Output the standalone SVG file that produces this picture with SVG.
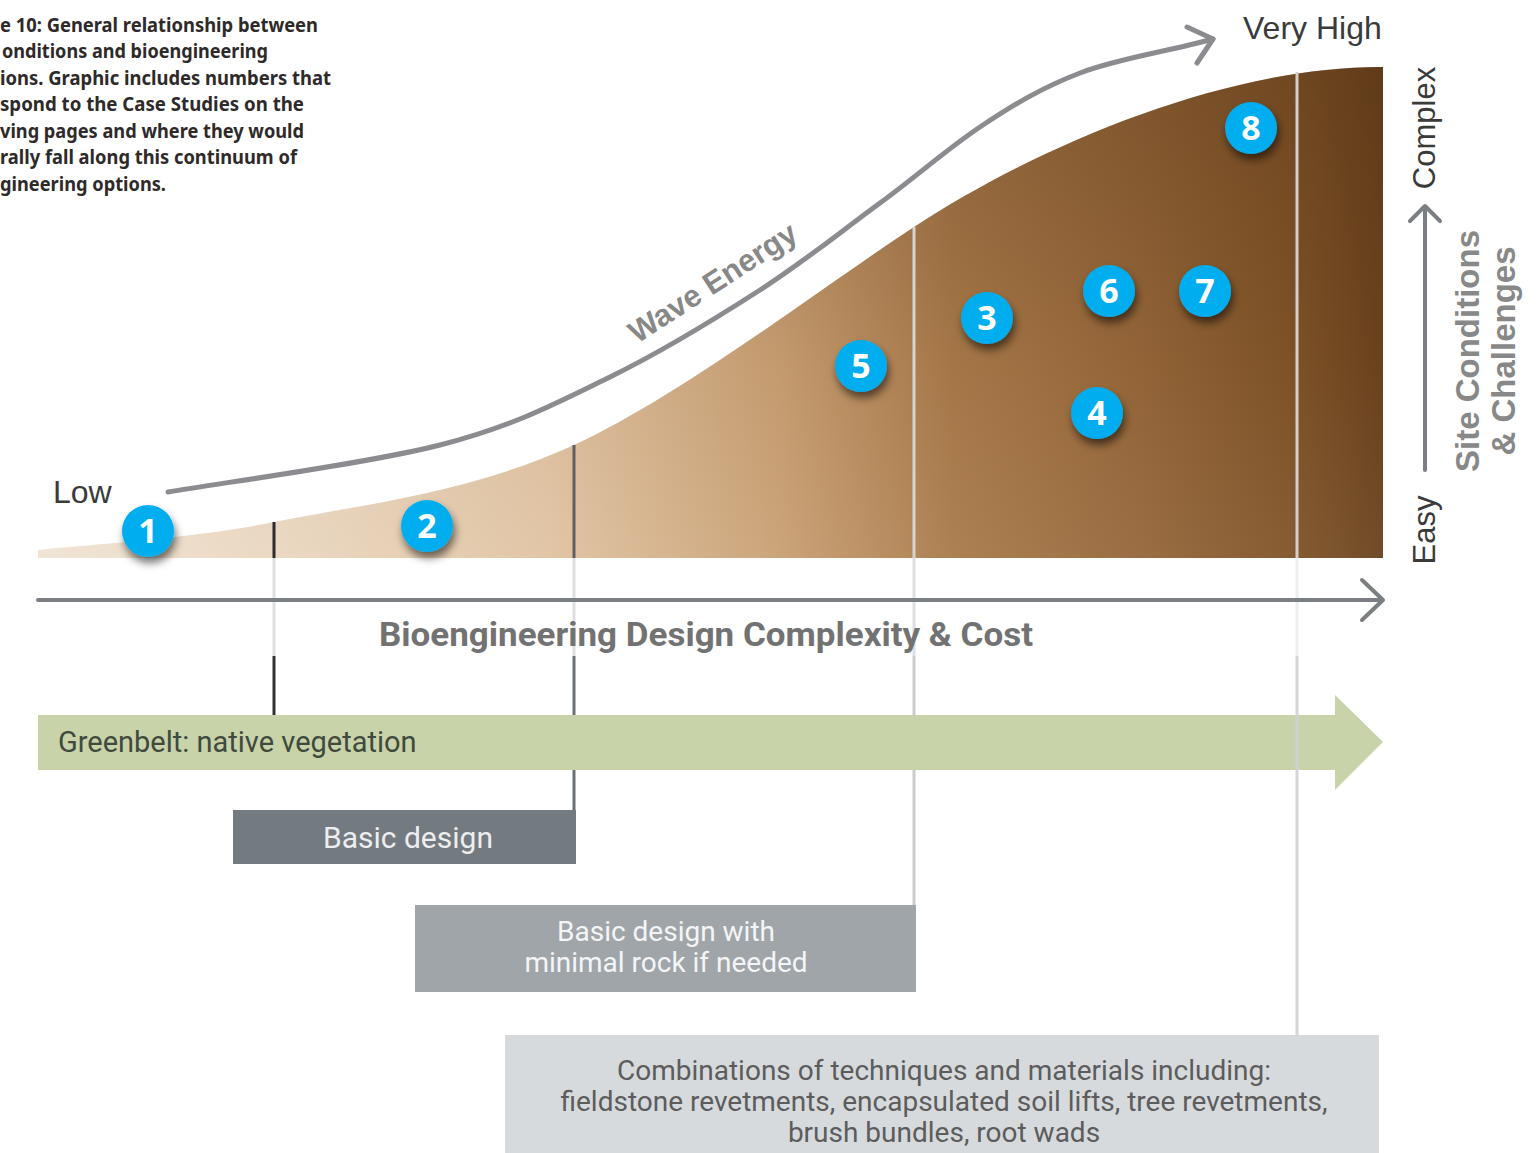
<svg xmlns="http://www.w3.org/2000/svg" width="1536" height="1153" viewBox="0 0 1536 1153">
<defs>
<linearGradient id="brown" x1="38" y1="0" x2="1383" y2="0" gradientUnits="userSpaceOnUse">
<stop offset="0" stop-color="#f0e3d4"/>
<stop offset="0.2" stop-color="#e9d5bd"/>
<stop offset="0.38" stop-color="#e0c3a2"/>
<stop offset="0.55" stop-color="#c9a073"/>
<stop offset="0.68" stop-color="#a97a4a"/>
<stop offset="0.82" stop-color="#956639"/>
<stop offset="0.93" stop-color="#805428"/>
<stop offset="1" stop-color="#6a421d"/>
</linearGradient>
<linearGradient id="shade" x1="0" y1="67" x2="0" y2="558" gradientUnits="userSpaceOnUse">
<stop offset="0" stop-color="#4a2a10" stop-opacity="0.3"/>
<stop offset="0.6" stop-color="#4a2a10" stop-opacity="0.05"/>
<stop offset="1" stop-color="#ffffff" stop-opacity="0.05"/>
</linearGradient>
<filter id="sh" x="-50%" y="-50%" width="200%" height="200%">
<feDropShadow dx="2" dy="6" stdDeviation="4" flood-color="#000" flood-opacity="0.55"/>
</filter>
<style>
.cap{font-family:"Noto Sans","Open Sans",sans-serif;font-weight:700;font-size:20px;fill:#2e2a2a}
.lbl{font-family:"Liberation Sans",Arial,sans-serif;font-size:32px;fill:#3a3a3a}
.vl{font-family:"Liberation Sans",Arial,sans-serif;font-size:31px;fill:#3a3a3a}
.gl{font-family:"Liberation Sans",Arial,sans-serif;font-weight:700;font-size:33px;fill:#888888}
.box{font-family:Roboto,"Liberation Sans",sans-serif;font-size:28px;text-anchor:middle}
.num{font-family:"Open Sans","Noto Sans",sans-serif;font-weight:700;font-size:34px;fill:#fff;text-anchor:middle}
.badge{fill:#00aeef;filter:url(#sh)}
.axis{fill:none;stroke:#7b7f84;stroke-width:4;stroke-linecap:round;stroke-linejoin:round}
.wave{fill:none;stroke:#8c8c90;stroke-width:5;stroke-linecap:round;stroke-linejoin:round}
</style>
</defs>
<rect width="1536" height="1153" fill="#fff"/>

<g id="caption">
<text class="cap" x="0" y="32" textLength="318" lengthAdjust="spacingAndGlyphs">e 10: General relationship between</text>
<text class="cap" x="2" y="58" textLength="266" lengthAdjust="spacingAndGlyphs">onditions and bioengineering</text>
<text class="cap" x="0" y="85" textLength="331" lengthAdjust="spacingAndGlyphs">ions. Graphic includes numbers that</text>
<text class="cap" x="0" y="111" textLength="304" lengthAdjust="spacingAndGlyphs">spond to the Case Studies on the</text>
<text class="cap" x="0" y="138" textLength="304" lengthAdjust="spacingAndGlyphs">ving pages and where they would</text>
<text class="cap" x="0" y="164" textLength="297" lengthAdjust="spacingAndGlyphs">rally fall along this continuum of</text>
<text class="cap" x="0" y="191" textLength="166" lengthAdjust="spacingAndGlyphs">gineering options.</text>
</g>

<g id="area">
<path id="areaPath" d="M38,558 L38,550 C77,545 185,540 274,522 C363,504 467,494 574,445 C681,396 835,278 914,227 C1044,142 1230,66 1383,67 L1383,558 Z" fill="url(#brown)"/>
<path d="M38,558 L38,550 C77,545 185,540 274,522 C363,504 467,494 574,445 C681,396 835,278 914,227 C1044,142 1230,66 1383,67 L1383,558 Z" fill="url(#shade)"/>
</g>

<g id="dividers">
<line x1="274" y1="522" x2="274" y2="558" stroke="#2d2d2d" stroke-width="3"/>
<line x1="574" y1="445" x2="574" y2="558" stroke="#5d6167" stroke-width="3"/>
<line x1="914" y1="227" x2="914" y2="558" stroke="#d9d3cc" stroke-width="3"/>
<line x1="1297" y1="72" x2="1297" y2="558" stroke="#d6cfc8" stroke-width="3"/>
<g stroke="#dcdee0" stroke-width="3">
<line x1="274" y1="558" x2="274" y2="656"/>
<line x1="574" y1="558" x2="574" y2="656"/>
<line x1="914" y1="558" x2="914" y2="656"/>
<line x1="1297" y1="558" x2="1297" y2="656" stroke="#eceeef"/>
</g>
<line x1="274" y1="656" x2="274" y2="715" stroke="#2f3335" stroke-width="3"/>
<line x1="574" y1="656" x2="574" y2="715" stroke="#6b7075" stroke-width="3"/>
<line x1="574" y1="770" x2="574" y2="810" stroke="#6b7075" stroke-width="3"/>
<line x1="914" y1="656" x2="914" y2="715" stroke="#c9cbcd" stroke-width="3"/>
<line x1="914" y1="770" x2="914" y2="905" stroke="#c9cbcd" stroke-width="3"/>
</g>

<g id="wave-energy">
<path class="wave" d="M168,492 C213,484 366,464 440,445 C514,426 557,403 610,377 C663,351 715,319 760,290 C805,261 843,230 880,203 C917,176 947,149 980,127 C1013,105 1041,88 1080,73 C1119,58 1171,51 1213,39"/>
<polyline class="wave" points="1187,27 1213,39 1197,63"/>
<text class="gl" transform="translate(713,283) rotate(-33)" x="0" y="10" text-anchor="middle" style="font-size:31px" fill="#808080">Wave Energy</text>
</g>

<g id="labels">
<text class="lbl" x="53" y="503">Low</text>
<text class="lbl" x="1243" y="39">Very High</text>
</g>

<g id="x-axis">
<line class="axis" x1="38" y1="600" x2="1381" y2="600"/>
<polyline class="axis" points="1362,580 1383,600 1362,620"/>
<text x="379" y="646" textLength="654" lengthAdjust="spacingAndGlyphs" font-family="Roboto,'Liberation Sans',sans-serif" font-weight="700" font-size="33" fill="#727272">Bioengineering Design Complexity &amp; Cost</text>
</g>

<g id="y-axis">
<line class="axis" x1="1425" y1="470" x2="1425" y2="207"/>
<polyline class="axis" points="1410,221 1425,206 1440,221"/>
<text class="vl" transform="translate(1435,530) rotate(-90)" text-anchor="middle">Easy</text>
<text class="vl" transform="translate(1435,128) rotate(-90)" text-anchor="middle">Complex</text>
<text class="gl" transform="translate(1479,351) rotate(-90)" text-anchor="middle">Site Conditions</text>
<text class="gl" transform="translate(1515,351) rotate(-90)" text-anchor="middle">&amp; Challenges</text>
</g>

<g id="greenbelt">
<polygon points="38,715 1335,715 1335,695 1383,742 1335,790 1335,770 38,770" fill="#c8d3a9"/>
<text class="box" x="58" y="752" fill="#3f4a3c" style="text-anchor:start;font-size:29px">Greenbelt: native vegetation</text>
</g>

<line id="divider-right" x1="1297" y1="656" x2="1297" y2="1035" stroke="#cfd1d3" stroke-width="3" opacity="0.9"/>

<g id="basic-design">
<rect x="233" y="810" width="343" height="54" fill="#737a80"/>
<text class="box" x="408" y="848" fill="#eceef0" style="font-size:30px">Basic design</text>
</g>

<g id="basic-design-rock">
<rect x="415" y="905" width="501" height="87" fill="#a0a5aa"/>
<text class="box" x="666" y="941" fill="#f4f5f6">Basic design with</text>
<text class="box" x="666" y="972" fill="#f4f5f6">minimal rock if needed</text>
</g>

<g id="combinations">
<rect x="505" y="1035" width="874" height="125" fill="#d7dadc"/>
<text class="box" x="944" y="1080" fill="#5c5c5c">Combinations of techniques and materials including:</text>
<text class="box" x="944" y="1111" fill="#5c5c5c">fieldstone revetments, encapsulated soil lifts, tree revetments,</text>
<text class="box" x="944" y="1142" fill="#5c5c5c">brush bundles, root wads</text>
</g>

<g id="badge-1"><circle class="badge" cx="148" cy="531" r="26"/><text class="num" x="148" y="543">1</text></g>
<g id="badge-2"><circle class="badge" cx="427" cy="526" r="26"/><text class="num" x="427" y="538">2</text></g>
<g id="badge-3"><circle class="badge" cx="987" cy="318" r="26"/><text class="num" x="987" y="330">3</text></g>
<g id="badge-4"><circle class="badge" cx="1097" cy="413" r="26"/><text class="num" x="1097" y="425">4</text></g>
<g id="badge-5"><circle class="badge" cx="861" cy="366" r="26"/><text class="num" x="861" y="378">5</text></g>
<g id="badge-6"><circle class="badge" cx="1109" cy="291" r="26"/><text class="num" x="1109" y="303">6</text></g>
<g id="badge-7"><circle class="badge" cx="1205" cy="291" r="26"/><text class="num" x="1205" y="303">7</text></g>
<g id="badge-8"><circle class="badge" cx="1251" cy="128" r="26"/><text class="num" x="1251" y="140">8</text></g>
</svg>
